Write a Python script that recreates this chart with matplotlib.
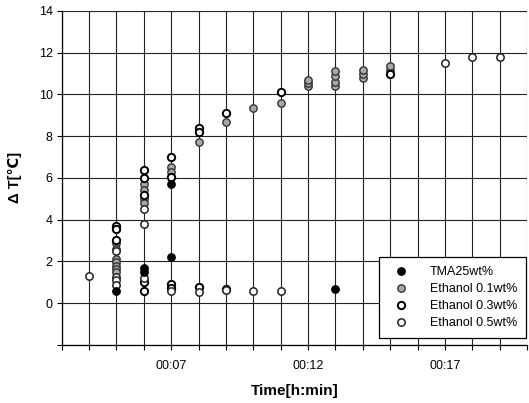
import matplotlib
matplotlib.use("Agg")
import matplotlib.pyplot as plt

plt.rcParams['font.family'] = ['Liberation Sans', 'DejaVu Sans']

# time in minutes
tma_t = [5, 6, 6, 7, 7, 13]
tma_v = [0.6, 1.7, 1.5, 5.7, 2.2, 0.7]

eth01_t = [5, 5, 5, 5, 5, 5, 5, 6, 6, 6, 6, 7, 7, 8, 9, 10, 11,
           12, 12, 12, 13, 13, 13, 13, 14, 14, 14, 15, 15]
eth01_v = [2.9, 2.6, 2.1, 1.95, 1.8, 1.65, 1.5, 5.7, 5.4, 5.0, 4.8, 6.5, 6.3,
           7.7, 8.7, 9.35, 9.6, 10.4, 10.55, 10.7, 10.4, 10.6, 10.9, 11.1,
           10.8, 11.0, 11.15, 11.15, 11.35]

eth03_t = [5, 5, 5, 6, 6, 6, 7, 7, 8, 8, 9, 11, 15, 6, 6, 7, 7, 8, 9]
eth03_v = [3.7, 3.55, 3.05, 6.4, 6.0, 5.2, 7.0, 6.06, 8.4, 8.2, 9.1, 10.1,
           11.0, 1.0, 0.6, 0.9, 0.75, 0.8, 0.7]

eth05_t = [4, 5, 5, 5, 5, 6, 6, 6, 7, 8, 9, 10, 11, 17, 18, 19]
eth05_v = [1.3, 1.25, 1.1, 0.85, 2.5, 4.5, 3.8, 1.2, 0.6, 0.55, 0.65, 0.6,
           0.6, 11.5, 11.8, 11.8]

labels = ['TMA25wt%', 'Ethanol 0.1wt%', 'Ethanol 0.3wt%', 'Ethanol 0.5wt%']
xtick_labels = {7: '00:07', 12: '00:12', 17: '00:17'}

fig = plt.figure(figsize=(5.29, 4.03), dpi=100)
ax = fig.add_axes([0.1166, 0.144, 0.8796, 0.829])

ms = 5.3
ax.plot(tma_t, tma_v, 'o', ms=ms, mfc='black', mec='black', mew=1.0,
        label=labels[0], zorder=5)
ax.plot(eth01_t, eth01_v, 'o', ms=ms, mfc='#a8a8a8', mec='#333333', mew=1.0,
        label=labels[1], zorder=3)
ax.plot(eth03_t, eth03_v, 'o', ms=ms, mfc='white', mec='black', mew=1.4,
        label=labels[2], zorder=4)
ax.plot(eth05_t, eth05_v, 'o', ms=ms, mfc='white', mec='#222222', mew=1.1,
        label=labels[3], zorder=4)

ax.set_xlim(3, 20)
ax.set_ylim(-2, 14)
ax.set_xticks(range(3, 21))
ax.set_xticklabels([xtick_labels.get(m, '') for m in range(3, 21)])
ax.set_yticks(range(-2, 15, 2))
ax.set_yticklabels(['' if v < 0 else str(v) for v in range(-2, 15, 2)])
ax.tick_params(axis='both', direction='out', length=3.5, width=0.8,
               labelsize=9, colors='black', pad=3)
ax.tick_params(axis='x', pad=7)

ax.grid(True, color='#222222', linewidth=0.8, zorder=1)
ax.set_axisbelow(True)
for s in ax.spines.values():
    s.set_color('black')
    s.set_linewidth(0.9)
ax.spines['top'].set_visible(False)
ax.spines['right'].set_visible(False)

ax.set_xlabel('Time[h:min]', fontsize=11, fontweight='bold', labelpad=9)
ax.set_ylabel('Δ T[℃]', fontsize=10.5, fontweight='bold', labelpad=12)

leg = ax.legend(loc='lower right', bbox_to_anchor=(0.998, 0.021),
                borderaxespad=0, fontsize=9, frameon=True, fancybox=False,
                edgecolor='black', framealpha=1, handletextpad=1.2,
                labelspacing=0.4, borderpad=0.7, handlelength=2.2)
leg.get_frame().set_linewidth(0.9)
leg.set_zorder(10)

fig.savefig('out.png', dpi=100)
